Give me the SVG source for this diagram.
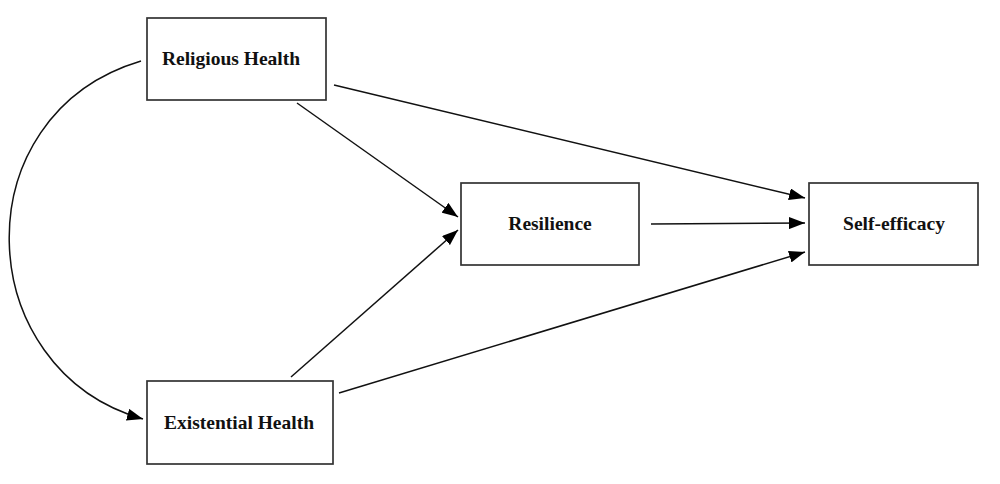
<svg xmlns="http://www.w3.org/2000/svg" width="1000" height="484" viewBox="0 0 1000 484">
<defs>
<style>
.box{fill:#fff;stroke:#333;stroke-width:1.7}
.lbl{font-family:"Liberation Serif","Times New Roman",serif;font-weight:bold;font-size:19.5px;fill:#111;text-anchor:middle}
.edge{fill:none;stroke:#111;stroke-width:1.5}
</style>
<marker id="ah" markerUnits="userSpaceOnUse" markerWidth="16" markerHeight="12" refX="16" refY="6" orient="auto">
<path d="M0,0 L16,6 L0,12 z" fill="#000"/>
</marker>
</defs>
<rect width="1000" height="484" fill="#fff"/>
<g id="religious">
<rect class="box" x="147" y="18" width="179" height="82"/>
<text class="lbl" x="231" y="65">Religious Health</text>
</g>
<g id="existential">
<rect class="box" x="147" y="381" width="186" height="83"/>
<text class="lbl" x="239" y="429">Existential Health</text>
</g>
<g id="resilience">
<rect class="box" x="461" y="183" width="178" height="82"/>
<text class="lbl" x="550" y="230">Resilience</text>
</g>
<g id="selfefficacy">
<rect class="box" x="809" y="183" width="169" height="82"/>
<text class="lbl" x="894" y="230">Self-efficacy</text>
</g>
<g id="connectors">
<path class="edge" marker-end="url(#ah)" d="M334,85 L805,198"/>
<path class="edge" marker-end="url(#ah)" d="M297,103 L458,217"/>
<path class="edge" marker-end="url(#ah)" d="M291,377 L458,230"/>
<path class="edge" marker-end="url(#ah)" d="M651,224 L805,223"/>
<path class="edge" marker-end="url(#ah)" d="M339,393 L805,252"/>
<path class="edge" marker-end="url(#ah)" d="M141,61 C-40,115 -30,370 143,419"/>
</g>
</svg>
